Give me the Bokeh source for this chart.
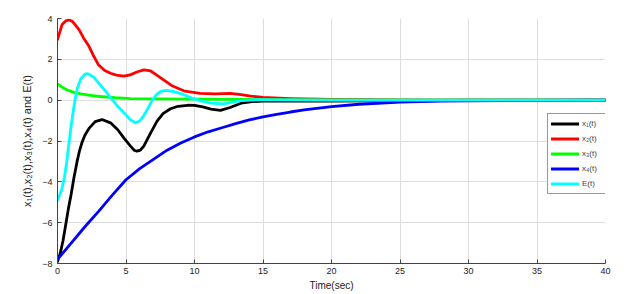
from bokeh.plotting import figure
from bokeh.models import Range1d, Legend, LegendItem, FixedTicker
from bokeh.embed import file_html
from bokeh.resources import INLINE

# x1(t) - black
t1 = [0, 0.2, 0.4, 0.6, 0.8, 1.0, 1.2, 1.43, 1.6, 1.8, 2.0, 2.3, 2.75, 3.25, 3.87, 4.4, 4.84, 5.33, 5.6, 5.8, 6.05, 6.3, 6.8, 7.27, 7.7, 8.25, 8.8, 9.5, 10.0, 10.6, 11.2, 11.9, 12.6, 13.4, 14.2, 15, 17, 20, 25, 30, 40]
x1 = [-7.9, -7.5, -6.9, -6.1, -5.3, -4.6, -3.8, -3.0, -2.5, -2.05, -1.72, -1.38, -1.05, -0.95, -1.11, -1.45, -1.85, -2.25, -2.45, -2.5, -2.45, -2.25, -1.6, -1.03, -0.66, -0.42, -0.3, -0.25, -0.26, -0.33, -0.44, -0.5, -0.36, -0.15, -0.07, -0.05, -0.05, -0.04, -0.02, 0.0, 0.0]

# x2(t) - red
t2 = [0, 0.34, 0.6, 0.85, 1.1, 1.56, 1.9, 2.29, 2.65, 3.0, 3.45, 3.87, 4.3, 4.84, 5.3, 5.8, 6.3, 6.8, 7.3, 7.9, 8.4, 9.3, 10.4, 11.5, 12.6, 13.4, 14.1, 15, 17, 20, 25, 30, 40]
x2 = [2.97, 3.71, 3.88, 3.93, 3.85, 3.47, 3.05, 2.65, 2.15, 1.72, 1.45, 1.32, 1.23, 1.18, 1.24, 1.38, 1.48, 1.43, 1.2, 0.92, 0.69, 0.44, 0.33, 0.31, 0.33, 0.27, 0.2, 0.13, 0.08, 0.04, 0.01, 0.0, 0.0]

# x3(t) - green
t3 = [0, 0.35, 0.7, 1.2, 1.7, 2.4, 3.1, 4.2, 5.3, 7, 10, 15, 20, 30, 40]
x3 = [0.8, 0.63, 0.5, 0.38, 0.31, 0.24, 0.18, 0.12, 0.08, 0.06, 0.05, 0.03, 0.01, 0.0, 0.0]

# x4(t) - blue
t4 = [0, 1, 2, 3, 4, 5, 6, 7, 8, 9, 10, 11, 12, 13, 14, 15, 16, 17, 18, 20, 22, 25, 28, 30, 35, 40]
x4 = [-7.8, -7.0, -6.2, -5.45, -4.65, -3.9, -3.35, -2.9, -2.45, -2.1, -1.8, -1.55, -1.35, -1.15, -0.97, -0.82, -0.7, -0.58, -0.48, -0.32, -0.2, -0.1, -0.05, -0.03, -0.01, 0.0]

# E(t) - cyan
tE = [0, 0.3, 0.5, 0.66, 0.8, 0.95, 1.1, 1.25, 1.43, 1.7, 2.0, 2.2, 2.6, 3.0, 3.5, 3.9, 4.4, 4.9, 5.3, 5.7, 6.0, 6.3, 6.6, 6.9, 7.2, 7.5, 7.9, 8.5, 9.2, 9.8, 10.4, 11.2, 12.1, 12.8, 13.4, 14.5, 16, 20, 40]
E = [-4.9, -4.4, -3.8, -3.1, -2.3, -1.5, -0.75, -0.1, 0.55, 1.05, 1.27, 1.3, 1.15, 0.85, 0.45, 0.1, -0.3, -0.65, -0.95, -1.11, -1.02, -0.75, -0.4, -0.02, 0.26, 0.42, 0.48, 0.42, 0.28, 0.1, -0.02, -0.14, -0.18, -0.1, -0.02, 0.02, 0.01, 0.0, 0.0]

x_ticks = [0, 5, 10, 15, 20, 25, 30, 35, 40]
y_ticks = [-8, -6, -4, -2, 0, 2, 4]
labels = ["x\u2081(t)", "x\u2082(t)", "x\u2083(t)", "x\u2084(t)", "E(t)"]
colors = ["#000000", "#ff0000", "#00ff00", "#0000ff", "#00ffff"]

FONT = "Liberation Sans"

p = figure(width=632, height=294, output_backend="svg", toolbar_location=None,
           x_range=Range1d(0, 40), y_range=Range1d(-8, 4),
           min_border_top=18, min_border_right=27, min_border_left=57, min_border_bottom=31,
           background_fill_color="white", border_fill_color="white")
p.outline_line_color = None

for ax in (p.xaxis[0], p.yaxis[0]):
    ax.major_tick_in = 4
    ax.major_tick_out = 0
    ax.minor_tick_in = 0
    ax.minor_tick_out = 0
    ax.axis_line_color = "#444444"
    ax.major_tick_line_color = "#444444"
    ax.major_label_text_font = FONT
    ax.major_label_text_font_size = "9px"
    ax.major_label_text_color = "#222222"
    ax.axis_label_text_font = FONT
    ax.axis_label_text_font_style = "normal"
    ax.axis_label_text_color = "#222222"

p.xaxis.axis_label_text_font_size = "10px"
p.yaxis.axis_label_text_font_size = "11px"
p.xaxis.ticker = FixedTicker(ticks=x_ticks)
p.yaxis.ticker = FixedTicker(ticks=y_ticks)
p.xaxis.axis_label = "Time(sec)"
p.yaxis.axis_label = "x\u2081(t),x\u2082(t),x\u2083(t),x\u2084(t) and E(t)"
p.xaxis.major_label_standoff = 4
p.xaxis.axis_label_standoff = 3
p.yaxis.major_label_standoff = 5
p.yaxis.axis_label_standoff = 6

p.grid.grid_line_color = "#dddddd"
p.grid.grid_line_width = 1

series = [(t1, x1), (t2, x2), (t3, x3), (t4, x4), (tE, E)]
renderers = []
for (tt, yy), c in zip(series, colors):
    r = p.line(tt, yy, line_color=c, line_width=2.8, line_join="round", line_cap="round")
    renderers.append(r)

items = [LegendItem(label=lab, renderers=[r]) for lab, r in zip(labels, renderers)]
legend = Legend(items=items, location=(490, 69))
legend.label_text_font = FONT
legend.label_text_font_size = "8px"
legend.glyph_width = 28
legend.glyph_height = 13
legend.label_height = 13
legend.spacing = 2
legend.padding = 3
legend.margin = 0
legend.label_standoff = 3
legend.border_line_color = "#333333"
legend.border_line_width = 1
legend.background_fill_alpha = 1
p.add_layout(legend, "center")

open("out.html", "w").write(file_html(p, INLINE))
